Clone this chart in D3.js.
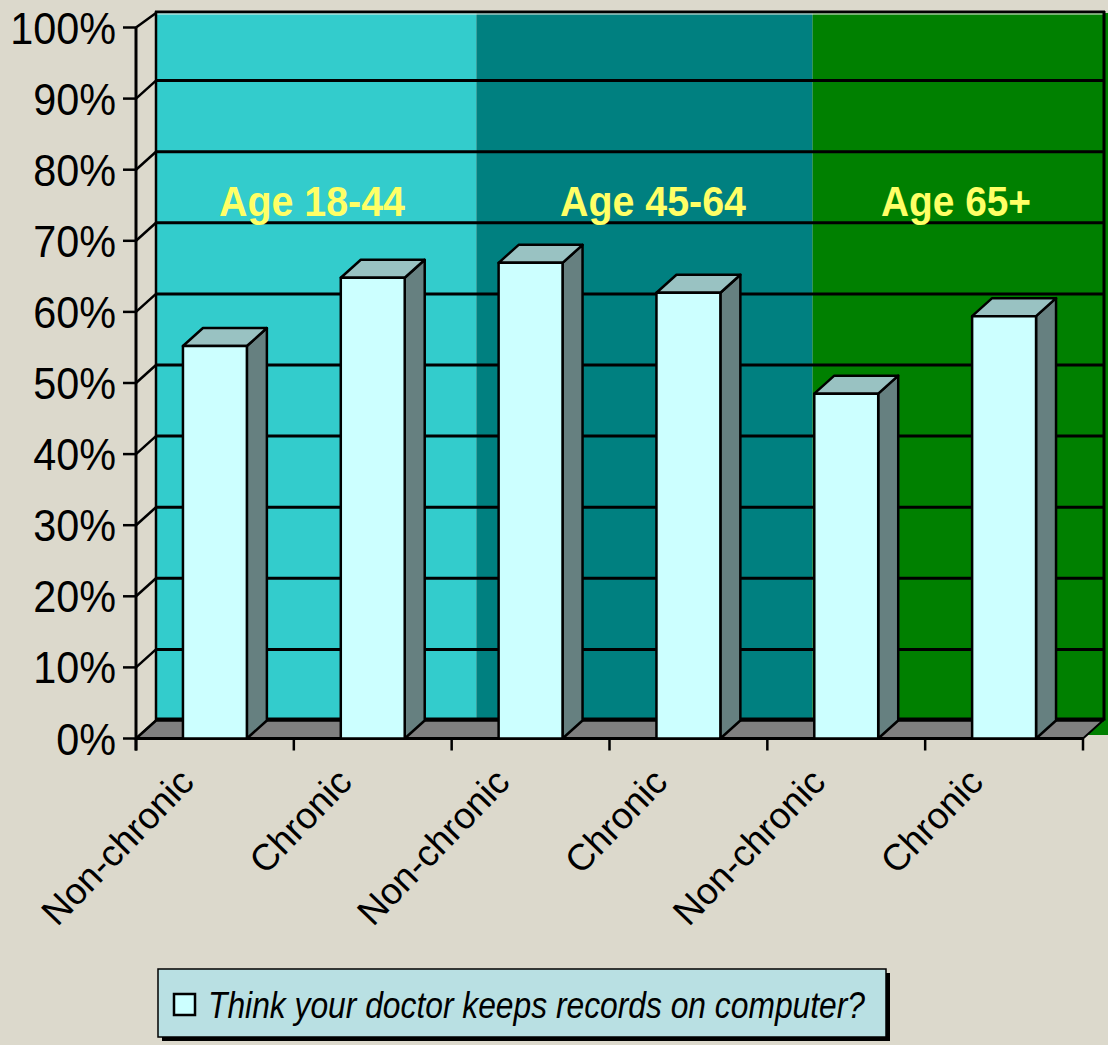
<!DOCTYPE html>
<html>
<head>
<meta charset="utf-8">
<script src="https://cdn.jsdelivr.net/npm/d3@7"></script>
<style>
  html, body { margin: 0; padding: 0; background: #dcd9cc; }
  svg { display: block; }
</style>
</head>
<body>
<div id="chart"></div>
<script>
// data
const categories = ["Non-chronic", "Chronic", "Non-chronic", "Chronic", "Non-chronic", "Chronic"];
const values = [55.2, 64.8, 66.9, 62.7, 48.5, 59.4];
const groups = ["Age 18-44", "Age 45-64", "Age 65+"];
const yTicks = [0, 10, 20, 30, 40, 50, 60, 70, 80, 90, 100];
const seriesName = "Think your doctor keeps records on computer?";

const W = 1108, H = 1045;
const DX = 20, DY = -18;          // 3d depth offset
const FONT = "'Liberation Sans', Arial, sans-serif";

const svg = d3.select("#chart").append("svg")
    .attr("width", W).attr("height", H)
    .style("background", "#dcd9cc");

const y = d3.scaleLinear().domain([0, 100]).range([738.5, 27.5]);
const x = d3.scaleBand().domain(d3.range(categories.length))
    .range([136, 1083]).paddingInner(0.595).paddingOuter(0.2975);
const step = x.step();
const x0 = 136;

const wallTop = 13, wallLeft = x0 + DX, wallRight = 1104, wallBottom = y(0) + DY;

// coloured age bands on back wall
const bandColors = ["#33cccc", "#008080", "#008000"];
const bandEdges = [wallLeft, x0 + step * 2.03 + DX, x0 + step * 4.16 + DX, W];
groups.forEach((g, i) => {
  svg.append("rect")
      .attr("x", bandEdges[i]).attr("y", wallTop)
      .attr("width", bandEdges[i + 1] - bandEdges[i])
      .attr("height", (i === 2 ? 735 : wallBottom) - wallTop)
      .attr("fill", bandColors[i]);
});

// gridlines on the back wall
svg.append("g").selectAll("line")
  .data(yTicks.filter(t => t > 0 && t < 100))
  .join("line")
    .attr("x1", wallLeft).attr("x2", wallRight)
    .attr("y1", d => y(d) + DY).attr("y2", d => y(d) + DY)
    .attr("stroke", "#000").attr("stroke-width", 3);

// wall outline
svg.append("line").attr("x1", wallLeft - 1).attr("x2", wallRight + 1)
    .attr("y1", wallTop - 1).attr("y2", wallTop - 1)
    .attr("stroke", "#000").attr("stroke-width", 3);
svg.append("line").attr("x1", wallLeft + 1).attr("x2", wallRight - 1)
    .attr("y1", wallTop + 1).attr("y2", wallTop + 1)
    .attr("stroke", "#eeeee6").attr("stroke-width", 1);
svg.append("line").attr("x1", wallLeft).attr("x2", wallLeft)
    .attr("y1", wallTop - 2).attr("y2", wallBottom)
    .attr("stroke", "#000").attr("stroke-width", 2.5);
svg.append("line").attr("x1", wallRight).attr("x2", wallRight)
    .attr("y1", wallTop - 2).attr("y2", wallBottom)
    .attr("stroke", "#000").attr("stroke-width", 3);

// floor
svg.append("polygon")
    .attr("points", [[x0, y(0)], [1083, y(0)], [1083 + DX, wallBottom], [wallLeft, wallBottom]].join(" "))
    .attr("fill", "#808080").attr("stroke", "#000").attr("stroke-width", 2);
svg.append("line").attr("x1", wallLeft).attr("x2", wallRight)
    .attr("y1", wallBottom - 1).attr("y2", wallBottom - 1)
    .attr("stroke", "#000").attr("stroke-width", 4);

// depth diagonals on the left side wall
svg.append("g").selectAll("line")
  .data(yTicks)
  .join("line")
    .attr("x1", x0).attr("y1", d => y(d))
    .attr("x2", wallLeft).attr("y2", d => Math.max(y(d) + DY, wallTop))
    .attr("stroke", "#000").attr("stroke-width", 2.5);

// front axes
svg.append("line").attr("x1", x0).attr("x2", x0)
    .attr("y1", y(100)).attr("y2", y(0) + 12)
    .attr("stroke", "#000").attr("stroke-width", 3);
svg.append("line").attr("x1", x0).attr("x2", 1083)
    .attr("y1", y(0)).attr("y2", y(0))
    .attr("stroke", "#000").attr("stroke-width", 3);

// y ticks + labels
const yAx = svg.append("g");
yAx.selectAll("line")
  .data(yTicks)
  .join("line")
    .attr("x1", x0 - 13).attr("x2", x0)
    .attr("y1", d => y(d)).attr("y2", d => y(d))
    .attr("stroke", "#000").attr("stroke-width", 2.5);
yAx.selectAll("text")
  .data(yTicks)
  .join("text")
    .attr("transform", d => `translate(116,${y(d) + 16}) scale(0.92,1)`)
    .attr("text-anchor", "end")
    .attr("font-family", FONT).attr("font-size", 45)
    .attr("fill", "#000")
    .text(d => d + "%");

// x ticks at category boundaries
svg.append("g").selectAll("line")
  .data(d3.range(categories.length + 1))
  .join("line")
    .attr("x1", i => x0 + i * step).attr("x2", i => x0 + i * step)
    .attr("y1", y(0)).attr("y2", y(0) + 12)
    .attr("stroke", "#000").attr("stroke-width", 2.5);

// x labels, rotated
svg.append("g").selectAll("text")
  .data(categories)
  .join("text")
    .attr("transform", (d, i) => `translate(${x(i) + x.bandwidth() / 2 - 19},784) rotate(-46)`)
    .attr("text-anchor", "end")
    .attr("font-family", FONT).attr("font-size", 37)
    .attr("fill", "#000")
    .text(d => d);

// bars
const bars = svg.append("g")
    .attr("stroke", "#000").attr("stroke-width", 2.5).attr("stroke-linejoin", "round")
  .selectAll("g")
  .data(values)
  .join("g");

bars.append("polygon")   // side
    .attr("fill", "#668080")
    .attr("points", (d, i) => {
      const r = x(i) + x.bandwidth();
      return [[r, y(d)], [r + DX, y(d) + DY], [r + DX, y(0) + DY], [r, y(0)]].join(" ");
    });
bars.append("polygon")   // top
    .attr("fill", "#99c2c2")
    .attr("points", (d, i) => {
      const l = x(i), r = l + x.bandwidth();
      return [[l, y(d)], [r, y(d)], [r + DX, y(d) + DY], [l + DX, y(d) + DY]].join(" ");
    });
bars.append("rect")      // front
    .attr("fill", "#ccffff")
    .attr("x", (d, i) => x(i)).attr("width", x.bandwidth())
    .attr("y", d => y(d)).attr("height", d => y(0) - y(d));

// age group labels
svg.append("g").selectAll("text")
  .data(groups)
  .join("text")
    .attr("x", (d, i) => [312, 653, 956][i])
    .attr("y", 216)
    .attr("text-anchor", "middle")
    .attr("font-family", FONT).attr("font-weight", "bold").attr("font-size", 43)
    .attr("fill", "#ffff66")
    .attr("textLength", (d, i) => [186, 186, 150][i])
    .attr("lengthAdjust", "spacingAndGlyphs")
    .text(d => d);

// legend
const lg = svg.append("g");
lg.append("rect").attr("x", 162).attr("y", 973).attr("width", 728).attr("height", 68).attr("fill", "#000");
lg.append("rect").attr("x", 158).attr("y", 969).attr("width", 728).attr("height", 68)
    .attr("fill", "#b9e0e3").attr("stroke", "#000").attr("stroke-width", 1.5);
lg.append("rect").attr("x", 174).attr("y", 994).attr("width", 21).attr("height", 21)
    .attr("fill", "#ccffff").attr("stroke", "#000").attr("stroke-width", 2.5);
lg.append("text")
    .attr("x", 208).attr("y", 1018)
    .attr("font-family", FONT).attr("font-style", "italic").attr("font-size", 36)
    .attr("fill", "#000")
    .attr("textLength", 657).attr("lengthAdjust", "spacingAndGlyphs")
    .text(seriesName);
</script>
</body>
</html>
